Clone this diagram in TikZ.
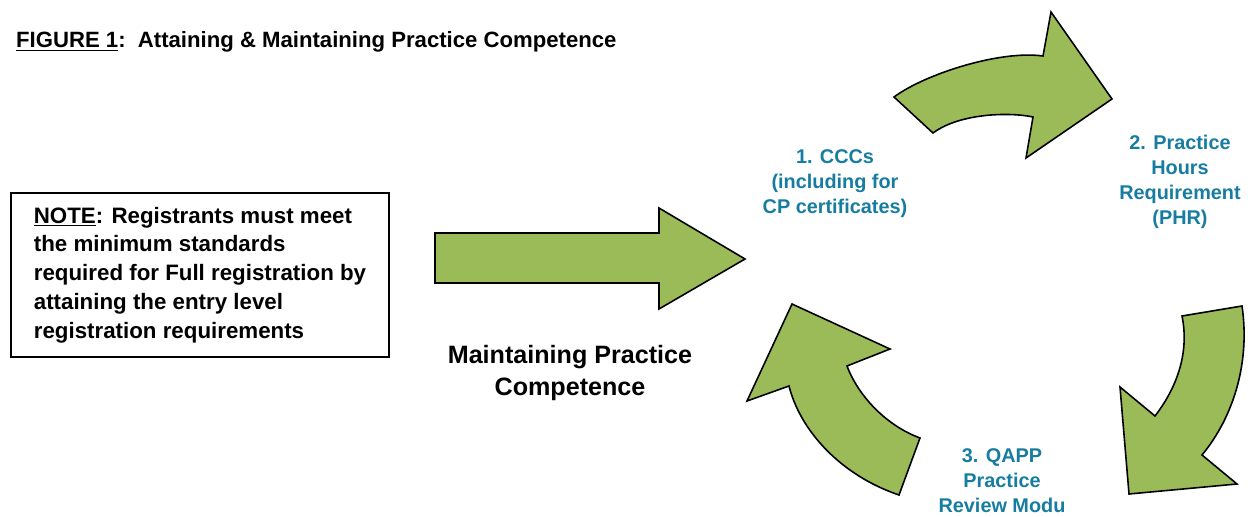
\documentclass[tikz,border=0pt]{standalone}
\usepackage{fontspec}
\setmainfont{Liberation Sans}
\usepackage{xcolor}
\definecolor{arrowgreen}{HTML}{9BBB59}
\definecolor{labelteal}{RGB}{22,125,160}

\tikzset{
	bigarrow/.style={fill=arrowgreen, draw=black, line width=0.9pt, line join=miter},
	steplabel/.style={text=labelteal, font=\bfseries\fontsize{11.3}{14.2}\selectfont, align=center},
}

\begin{document}
\begin{tikzpicture}[x=0.02cm, y=-0.02cm]

	\useasboundingbox (0,0) rectangle (1248,517);

	% title and note
	\node[anchor=west, font=\bfseries\fontsize{12.6}{14}\selectfont] (title) at (10,42)
		{\underline{FIGURE 1}:\ \ Attaining \& Maintaining Practice Competence};
	\node[draw, line width=0.9pt, minimum width=7.56cm, minimum height=3.28cm, align=left,
		font=\bfseries\fontsize{12.7}{16.4}\selectfont] (note) at (200,275)
		{\underline{NOTE}: Registrants must meet\\the minimum standards\\required for Full registration by\\attaining the entry level\\registration requirements};

	% straight arrow
	\coordinate (a) at (435,233);
	\coordinate (b) at (659,233);
	\coordinate (c) at (659,208);
	\coordinate (d) at (745,259);
	\coordinate (e) at (659,309);
	\coordinate (f) at (659,283);
	\coordinate (g) at (435,283);
	\draw[bigarrow] (a) -- (b) -- (c) -- (d) -- (e) -- (f) -- (g) -- cycle;

	\node[align=center, font=\bfseries\fontsize{14.3}{18.1}\selectfont] (maintain) at (570,373)
		{Maintaining Practice\\Competence};

	% curved arrows of the cycle
	\draw[bigarrow] (894,97) .. controls (925,74) and (1000,50) .. (1043,56)
		-- (1051,12) -- (1112,99) -- (1026,158) -- (1033,117)
		.. controls (1010,112) and (960,113) .. (933,133) -- cycle;
	\draw[bigarrow] (1182,316) -- (1242,306)
		.. controls (1250,360) and (1235,415) .. (1202,455)
		-- (1237,484) -- (1129,494) -- (1120,387) -- (1155,416)
		.. controls (1175,390) and (1190,355) .. (1182,316) -- cycle;
	\draw[bigarrow] (899,495) -- (920,438)
		.. controls (885,425) and (858,395) .. (847,366)
		-- (890,349) -- (792,304) -- (747,401) -- (789,386)
		.. controls (800,430) and (840,475) .. (899,495) -- cycle;

	% step labels
	\node[steplabel] (ccc) at (835,184) {1. CCCs\\(including for\\CP certificates)};
	\node[steplabel] (phr) at (1180,182) {2. Practice\\Hours\\Requirement\\(PHR)};
	\node[steplabel, inner sep=0pt] (qapp) at (1002,481) {3. QAPP\\Practice\\Review Modu};

\end{tikzpicture}
\end{document}
